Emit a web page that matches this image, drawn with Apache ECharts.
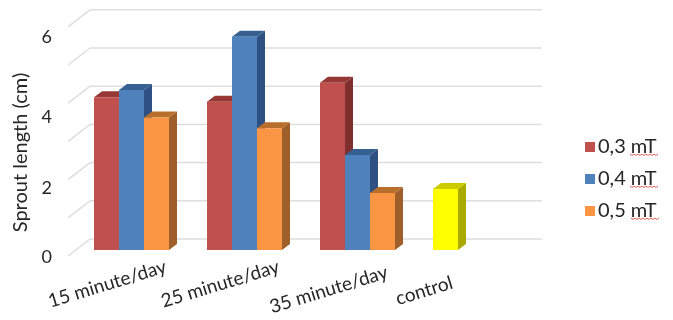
<!DOCTYPE html>
<html>
<head>
<meta charset="utf-8">
<style>
  html, body { margin: 0; padding: 0; background: #fff; }
  #main { width: 673px; height: 320px; }
</style>
<script src="https://cdn.jsdelivr.net/npm/echarts@6/dist/echarts.min.js"></script>
</head>
<body>
<div id="main"></div>
<script>
var categories = ['15 minute/day', '25 minute/day', '35 minute/day', 'control'];
var mt03 = [4.0, 3.88, 4.38, null];
var mt04 = [4.19, 5.58, 2.49, null];
var mt05 = [3.47, 3.19, 1.49, null];
var controlValues = [null, null, null, 1.6];
var gridValues = [0, 1, 2, 3, 4, 5, 6];
var tickLabels = ['0', '2', '4', '6'];
// the source picture has its tick labels off the gridlines
var tickSpots = [0, 1.88, 3.82, 6];

var font = 'Lato';
var depthX = 8, depthY = 6;

function bar(slot, colors) {
  return function (params, api) {
    if (api.value(1) == null) return;
    var w = api.size([1, 0])[0] * 25 / 113;
    var center = api.coord([api.value(0), 0]);
    var top = api.coord([api.value(0), api.value(1)]);
    var x0 = center[0] + (slot - 1.5) * w, x1 = x0 + w;
    var y0 = center[1], y1 = top[1];
    return {
      type: 'group',
      children: [
        { type: 'polygon', shape: { points: [[x1, y0], [x1 + depthX, y0 - depthY], [x1 + depthX, y1 - depthY], [x1, y1]] }, style: { fill: colors[1] } },
        { type: 'polygon', shape: { points: [[x0, y1], [x0 + depthX, y1 - depthY], [x1 + depthX, y1 - depthY], [x1, y1]] }, style: { fill: colors[2] } },
        { type: 'rect', shape: { x: x0, y: y1, width: w, height: y0 - y1 }, style: { fill: colors[0] } }
      ]
    };
  };
}

function barSeries(name, values, slot, colors) {
  return {
    name: name,
    type: 'custom',
    xAxisIndex: 0,
    yAxisIndex: 0,
    itemStyle: { color: colors[0] },
    renderItem: bar(slot, colors),
    encode: { x: 0, y: 1 },
    data: values.map(function (v, i) { return [i, v]; }),
    z: 3
  };
}

function squiggle(x, y) {
  var pts = [];
  for (var i = 0; i <= 14; i++) pts.push([x + i * 2, y + (i % 2 ? 1.5 : 0)]);
  return { type: 'polyline', shape: { points: pts }, style: { stroke: '#e0605a', lineWidth: 1, fill: null }, silent: true };
}

var labelStyle = { fontFamily: font, fontSize: 19, color: '#262626' };

var chart = echarts.init(document.getElementById('main'));
chart.setOption({
  animation: false,
  backgroundColor: '#fff',
  grid: [
    { left: 75, width: 452, top: 20.8, height: 229.2 },
    { left: 48, width: 452, top: 37, height: 220 }
  ],
  xAxis: [
    { type: 'category', gridIndex: 0, data: categories, axisLine: { show: false }, axisTick: { show: false }, axisLabel: { show: false } },
    {
      type: 'category', gridIndex: 1, data: categories,
      axisLine: { show: false }, axisTick: { show: false },
      axisLabel: {
        interval: 0, rotate: 17, margin: 18, align: 'center', verticalAlign: 'top',
        formatter: function (v) { return '{a' + categories.indexOf(v) + '|' + v + '}'; },
        rich: {
          a0: labelStyle,
          a1: labelStyle,
          a2: Object.assign({ padding: [4, 12, 0, 0] }, labelStyle),
          a3: Object.assign({ padding: [0, 46, 12, 0] }, labelStyle)
        }
      }
    }
  ],
  yAxis: [
    { type: 'value', gridIndex: 0, min: 0, max: 6, axisLine: { show: false }, axisTick: { show: false }, axisLabel: { show: false }, splitLine: { show: false } },
    {
      type: 'value', gridIndex: 1, min: 0, max: 6, offset: -12,
      name: 'Sprout length (cm)',
      nameLocation: 'middle', nameGap: 18,
      nameTextStyle: { fontFamily: font, fontSize: 20, color: '#262626', padding: [0, 11, 0, 0] },
      axisLine: { show: false }, axisTick: { show: false }, splitLine: { show: false },
      axisLabel: {
        margin: 8,
        customValues: tickSpots,
        fontFamily: font, fontSize: 18, color: '#262626',
        formatter: function (v) { return tickLabels[tickSpots.indexOf(v)]; }
      }
    }
  ],
  legend: {
    data: ['0,3 mT', '0,4 mT', '0,5 mT'],
    orient: 'vertical',
    left: 580,
    top: 132,
    icon: 'rect',
    itemWidth: 10,
    itemHeight: 10,
    itemGap: 12,
    textStyle: { fontFamily: font, fontSize: 20, color: '#262626', padding: [0, 0, 0, -2] },
    selectedMode: false
  },
  graphic: [squiggle(630, 154), squiggle(630, 186), squiggle(631, 218)],
  series: [
    {
      type: 'custom',
      xAxisIndex: 0,
      yAxisIndex: 0,
      z: 1,
      silent: true,
      data: gridValues.map(function (v) { return [0, v]; }),
      encode: { x: 0, y: 1 },
      renderItem: function (params, api) {
        var y = api.coord([0, api.value(1)])[1];
        return {
          type: 'group',
          children: [
            { type: 'line', shape: { x1: 68, y1: y + 6, x2: 90, y2: y - 11 }, style: { stroke: '#dedede', lineWidth: 1.5 } },
            { type: 'line', shape: { x1: 90, y1: y - 11, x2: 542, y2: y - 11 }, style: { stroke: '#dedede', lineWidth: 1.5 } }
          ]
        };
      }
    },
    barSeries('0,3 mT', mt03, 0, ['#C0504D', '#7F2F2E', '#953735']),
    barSeries('0,4 mT', mt04, 1, ['#4F81BD', '#2F5082', '#366092']),
    barSeries('0,5 mT', mt05, 2, ['#F99543', '#9E5F2A', '#B96F2C']),
    barSeries('control', controlValues, 0, ['#FFFF00', '#AAAA00', '#CCCC00'])
  ]
});
</script>
</body>
</html>
